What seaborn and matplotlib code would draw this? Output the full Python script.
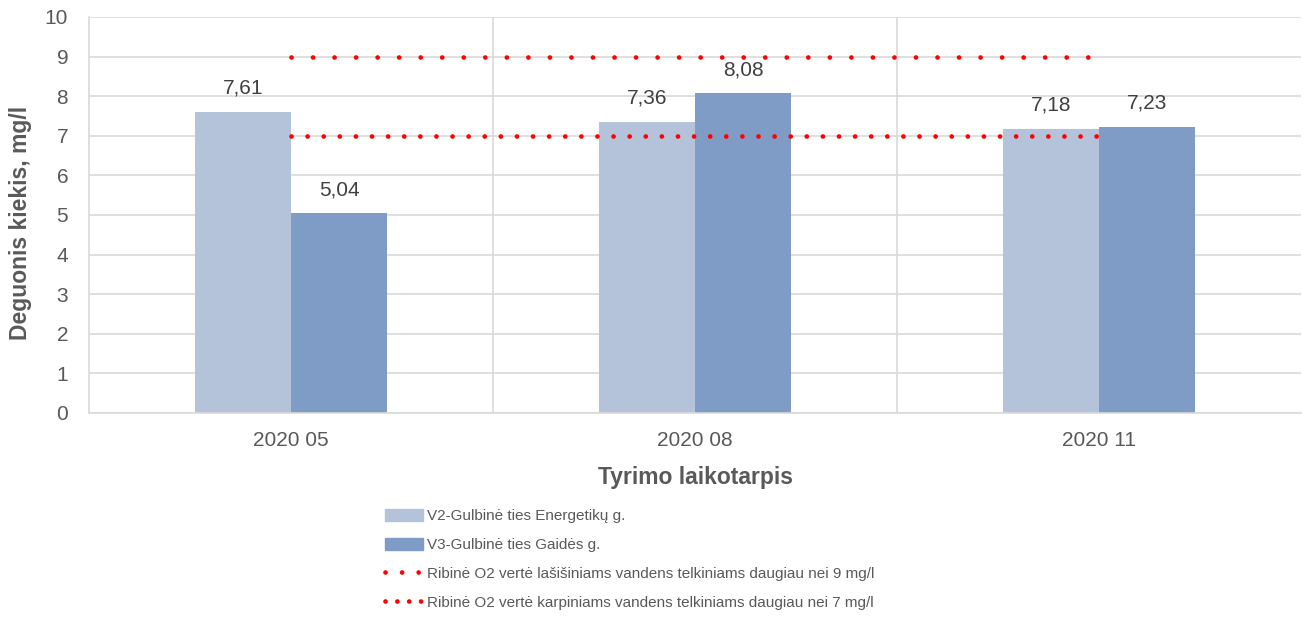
import pandas as pd
import matplotlib.pyplot as plt
from matplotlib.patches import Patch
from matplotlib.lines import Line2D
import seaborn as sns

periods = ['2020 05', '2020 08', '2020 11']
v2 = [7.61, 7.36, 7.18]
v3 = [5.04, 8.08, 7.23]
site_names = ['V2-Gulbinė ties Energetikų g.', 'V3-Gulbinė ties Gaidės g.']
salmon_limit = [9, 9, 9]
carp_limit = [7, 7, 7]
limit_names = ['Ribinė O2 vertė lašišiniams vandens telkiniams daugiau nei 9 mg/l',
               'Ribinė O2 vertė karpiniams vandens telkiniams daugiau nei 7 mg/l']

light = '#B4C3DA'
dark = '#7F9CC6'
grid_c = '#D9D9D9'
txt_c = '#595959'

sns.set_style('white')
plt.rcParams['font.family'] = ['Liberation Sans', 'DejaVu Sans']

df = pd.DataFrame({
    'period': periods * 2,
    'value': v2 + v3,
    'site': [site_names[0]] * 3 + [site_names[1]] * 3,
})

fig = plt.figure(figsize=(13.02, 6.21), dpi=100)
ax = fig.add_axes([89 / 1302, 1 - 413 / 621, 1212 / 1302, 396 / 621])

sns.barplot(data=df, x='period', y='value', hue='site', palette=[light, dark],
            width=0.475, gap=0, saturation=1, linewidth=0, legend=False, ax=ax)

# data labels with decimal comma
for cont, vals in zip(ax.containers, [v2, v3]):
    ax.bar_label(cont, labels=[f'{v:.2f}'.replace('.', ',') for v in vals],
                 padding=10, fontsize=15, color='#404040')

x = list(range(len(periods)))
ax.plot(x, salmon_limit, color='red', lw=3.4, linestyle=(0, (0.01, 4.55)),
        dash_capstyle='round', zorder=5)
ax.plot(x, carp_limit, color='red', lw=3.4, linestyle=(0, (0.01, 3.4)),
        dash_capstyle='round', zorder=5)

ax.set_xlim(-0.5, 2.5)
ax.set_ylim(0, 10)
ax.set_yticks(range(0, 11))
ax.set_xticks([0.5, 1.5], minor=True)
ax.grid(axis='y', color=grid_c, lw=1.2)
ax.grid(axis='x', which='minor', color=grid_c, lw=1.2)
ax.set_axisbelow(True)
for s in ['top', 'right']:
    ax.spines[s].set_visible(False)
for s in ['left', 'bottom']:
    ax.spines[s].set_color(grid_c)
    ax.spines[s].set_linewidth(1.2)
ax.tick_params(axis='both', which='both', length=0, labelsize=15, labelcolor=txt_c)
ax.tick_params(axis='y', pad=15)
ax.tick_params(axis='x', pad=13)

ax.set_xlabel('Tyrimo laikotarpis', fontsize=16.5, fontweight='bold', color=txt_c)
ax.set_ylabel('Deguonis kiekis, mg/l', fontsize=16.5, fontweight='bold', color=txt_c)
ax.xaxis.set_label_coords(0.5, -0.135)
ax.yaxis.set_label_coords(-0.047, 0.48)

handles = [
    Patch(color=light), Patch(color=dark),
    Line2D([], [], color='red', lw=3.4, linestyle=(0, (0.01, 3.5)), dash_capstyle='round'),
    Line2D([], [], color='red', lw=3.4, linestyle=(0, (0.01, 2.5)), dash_capstyle='round'),
]
fig.legend(handles, site_names + limit_names, loc='upper left',
           bbox_to_anchor=(385 / 1302, 1 - 509 / 621), frameon=False,
           fontsize=11, labelcolor=txt_c, handlelength=2.5, handleheight=0.85,
           handletextpad=0.25, labelspacing=0.95, borderpad=0, borderaxespad=0)

fig.savefig('out.png', dpi=100)
